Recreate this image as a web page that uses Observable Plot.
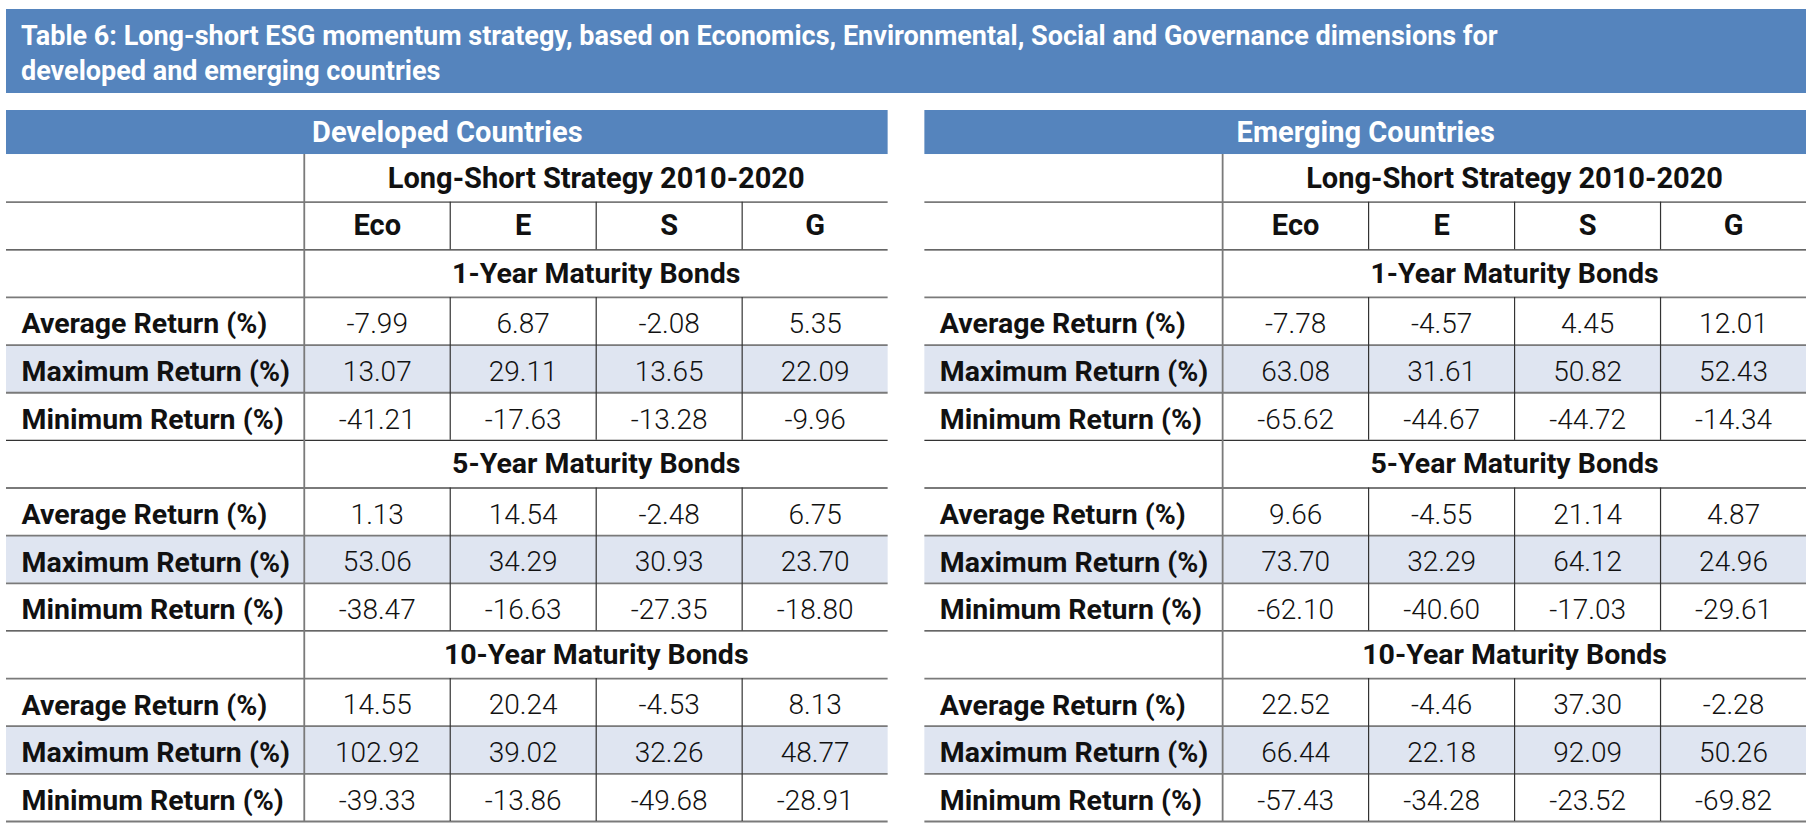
<!DOCTYPE html>
<html><head><meta charset="utf-8">
<script src="https://cdn.jsdelivr.net/npm/d3@7"></script>
<script src="https://cdn.jsdelivr.net/npm/@observablehq/plot@0.6"></script>
<style>
body{margin:0;background:#fff;}
#title{margin:9px 7px 0 6px;height:84px;background:#5584bd;color:#fff;font-family:Roboto,sans-serif;font-weight:700;font-size:27px;line-height:35px;padding:10px 0 0 15px;box-sizing:border-box;}
#chart svg{display:block;}
</style></head><body>
<div id="title">Table 6: Long-short ESG momentum strategy, based on Economics, Environmental, Social and Governance dimensions for<br>developed and emerging countries</div>
<div id="chart"></div>
<script>
const groups = ["Developed Countries", "Emerging Countries"];
const strategyTitle = "Long-Short Strategy 2010-2020";
const factors = ["Eco", "E", "S", "G"];
const maturities = ["1-Year Maturity Bonds", "5-Year Maturity Bonds", "10-Year Maturity Bonds"];
const stats = ["Average Return (%)", "Maximum Return (%)", "Minimum Return (%)"];
// rows: maturity x stat, columns: Eco, E, S, G
const developed = [
  [-7.99, 6.87, -2.08, 5.35],
  [13.07, 29.11, 13.65, 22.09],
  [-41.21, -17.63, -13.28, -9.96],
  [1.13, 14.54, -2.48, 6.75],
  [53.06, 34.29, 30.93, 23.70],
  [-38.47, -16.63, -27.35, -18.80],
  [14.55, 20.24, -4.53, 8.13],
  [102.92, 39.02, 32.26, 48.77],
  [-39.33, -13.86, -49.68, -28.91]
];
const emerging = [
  [-7.78, -4.57, 4.45, 12.01],
  [63.08, 31.61, 50.82, 52.43],
  [-65.62, -44.67, -44.72, -14.34],
  [9.66, -4.55, 21.14, 4.87],
  [73.70, 32.29, 64.12, 24.96],
  [-62.10, -40.60, -17.03, -29.61],
  [22.52, -4.46, 37.30, -2.28],
  [66.44, 22.18, 92.09, 50.26],
  [-57.43, -34.28, -23.52, -69.82]
];

// layout (in scale units): label column spans [-L, 0], data column i spans [i, i+1]
const L = 2.04, B = 0.924, NC = factors.length, NR = 2 + maturities.length * (stats.length + 1);
const blue = "#5584bd", shade = "#dfe5f1", ink = "#111";

const cells = [], statRows = [], matRows = [], facHeads = [], hRules = [], vRules = [];
groups.forEach((g, gi) => {
  const vals = gi === 0 ? developed : emerging;
  factors.forEach((f, fi) => facHeads.push({group: g, col: fi, label: f}));
  maturities.forEach((m, mi) => {
    const r0 = 2 + mi * (stats.length + 1);
    matRows.push({group: g, row: r0, label: m});
    stats.forEach((s, si) => {
      statRows.push({group: g, row: r0 + 1 + si, label: s, stat: si});
      factors.forEach((f, fi) => cells.push({group: g, row: r0 + 1 + si, col: fi, value: vals[mi * stats.length + si][fi]}));
    });
  });
  for (let r = 1; r <= NR; r++) {
    const dark = r === 2 || (r > 2 && (r - 2) % 4 === 0 && r < NR);
    hRules.push({group: g, y: r, dark});
  }
  vRules.push({group: g, x: 0, y1: 0, y2: NR, dark: false});
  for (let c = 1; c < NC; c++) {
    vRules.push({group: g, x: c, y1: 1, y2: 2, dark: true});
    maturities.forEach((m, mi) => {
      const r0 = 2 + mi * (stats.length + 1);
      vRules.push({group: g, x: c, y1: r0 + 1, y2: r0 + 1 + stats.length, dark: true});
    });
  }
});

const full = {x1: () => -L, x2: () => NC};
const bold = {fill: ink, fontWeight: 700, fontFamily: "Roboto"};
const chart = Plot.plot({
  width: 1813, height: 741,
  marginLeft: 6, marginRight: 7, marginTop: 17, marginBottom: 13,
  fx: {domain: groups, axis: null, paddingInner: 0.04, paddingOuter: 0, round: false},
  x: {domain: [-L, NC], axis: null},
  y: {domain: [-B, NR], reverse: true, axis: null},
  marks: [
    Plot.rect(groups, {fx: d => d, ...full, y1: () => -B, y2: () => 0, fill: blue}),
    Plot.text(groups, {fx: d => d, x: () => (NC - L) / 2, y: () => -B / 2, text: d => d, fill: "#fff", fontSize: 29, fontWeight: 700, fontFamily: "Roboto"}),
    Plot.rect(statRows.filter(d => d.stat === 1), {fx: "group", ...full, y1: "row", y2: d => d.row + 1, fill: shade}),
    Plot.ruleY(hRules, {fx: "group", y: "y", ...full, stroke: d => d.dark ? "#333" : "#7a7a7a", strokeWidth: d => d.dark ? 1.2 : 1.8}),
    Plot.ruleX(vRules, {fx: "group", x: "x", y1: "y1", y2: "y2", stroke: d => d.dark ? "#333" : "#7a7a7a", strokeWidth: d => d.dark ? 1.2 : 1.8}),
    Plot.text(groups, {fx: d => d, x: () => NC / 2, y: () => 0.5, text: () => strategyTitle, fontSize: 29, ...bold}),
    Plot.text(facHeads, {fx: "group", x: d => d.col + 0.5, y: () => 1.5, text: "label", fontSize: 29, ...bold}),
    Plot.text(matRows, {fx: "group", x: () => NC / 2, y: d => d.row + 0.5, text: "label", fontSize: 28.5, ...bold}),
    Plot.text(statRows, {fx: "group", x: () => -L, dx: 15, dy: 3, y: d => d.row + 0.5, text: "label", textAnchor: "start", fontSize: 28.5, ...bold}),
    Plot.text(cells, {fx: "group", x: d => d.col + 0.5, y: d => d.row + 0.5, dy: 3, text: d => d.value.toFixed(2), fill: ink, fontSize: 28, fontWeight: 300, fontFamily: "Roboto"})
  ]
});
document.getElementById("chart").append(chart);
</script>
</body></html>
